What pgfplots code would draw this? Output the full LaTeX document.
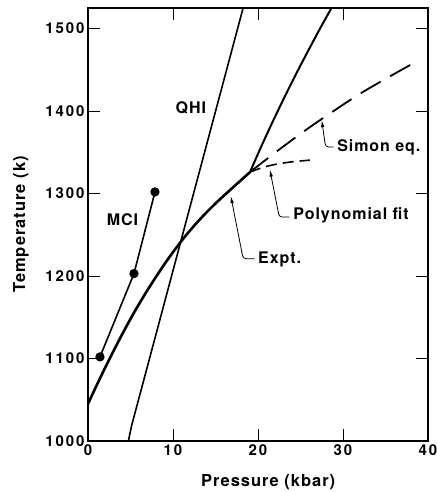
\documentclass[border=0pt]{standalone}
\usepackage{fontspec}
\setmainfont{TeX Gyre Heros}[LetterSpace=6]
\newfontfamily\tickfont{TeX Gyre Heros}[LetterSpace=13]
\usepackage{pgfplots}
\pgfplotsset{compat=1.18}
\usetikzlibrary{arrows.meta}

\newcommand{\annfont}{\fontsize{16}{16}\selectfont\bfseries}
\tikzset{leader/.style={line width=0.8pt, rounded corners=3pt, {Latex[length=7pt,width=3.5pt]}-}}

\begin{document}
\begin{tikzpicture}
\begin{axis}[
  scale only axis,
  width=340pt, height=433pt,
  xmin=0, xmax=40, ymin=1000, ymax=1525,
  xtick={0,10,20,30,40},
  ytick={1000,1100,1200,1300,1400,1500},
  tick align=inside,
  major tick length=12pt,
  tick style={line width=0.9pt, black},
  axis line style={line width=1.3pt},
  tick label style={font=\tickfont\fontsize{15}{15}\selectfont\bfseries},
  /pgf/number format/assume math mode=true,
  /pgf/number format/1000 sep={},
  xlabel={Pressure (kbar)},
  ylabel={Temperature (k)},
  label style={font=\fontsize{16.5}{16.5}\selectfont\bfseries},
  xlabel style={at={(rel axis cs:0.53,-0.104)}, anchor=base},
  ylabel style={at={(rel axis cs:-0.185,0.5)}, anchor=base},
]
\coordinate (bl) at (rel axis cs:0,0);

% experimental melting curve
\addplot[black, line width=2.6pt, smooth] coordinates {
  (0,1045) (1,1067.1) (2,1088.5) (3,1109.1) (4,1129) (5,1148) (6,1166)
  (7,1183) (8,1199) (9,1214.5) (10,1229) (11,1242.6) (12,1255.2)
  (13,1266.9) (14,1277.8) (15,1288) (16,1297.6) (17,1306.9) (18,1316.2)
  (19.06,1326)
};
% upper branch
\addplot[black, line width=2pt, smooth] coordinates {
  (19.06,1326) (20.12,1351) (21.22,1376) (22.37,1401) (23.55,1426)
  (24.78,1451) (26.05,1476) (27.35,1501) (28.7,1526)
};
% Simon equation
\addplot[black, line width=1.8pt, smooth, dash pattern=on 23pt off 11pt] coordinates {
  (19.06,1326) (22,1349.5) (26.1,1380.5) (32,1421) (38.1,1457)
};
% polynomial fit
\addplot[black, line width=1.6pt, smooth, dash pattern=on 11pt off 6pt] coordinates {
  (19.06,1326) (20.5,1331.5) (22,1335.3) (24,1338.5) (26.1,1340.5)
};
% QHI
\addplot[black, line width=1.6pt] coordinates {
  (4.75,1000) (5.14,1019) (18.3,1527)
};
% MCI
\addplot[black, line width=1.6pt, mark=*, mark size=3.8pt] coordinates {
  (1.41,1102) (5.41,1203) (7.88,1302)
};

\node[font=\annfont, anchor=base west, inner sep=0pt] at (axis cs:10.3,1396.6) {QHI};
\node[font=\annfont, anchor=base west, inner sep=0pt] at (axis cs:2.2,1261.5) {MCI};
\node[font=\annfont, anchor=base west, inner sep=0pt] at (axis cs:29.3,1351) {Simon eq.};
\node[font=\annfont, anchor=base west, inner sep=0pt] at (axis cs:24.15,1268.4) {Polynomial fit};
\node[font=\annfont, anchor=base west, inner sep=0pt] at (axis cs:20.0,1215) {Expt.};

\draw[leader] (axis cs:27.5,1389) -- (axis cs:27.95,1356.5) -- (axis cs:28.9,1356.5);
\draw[leader] (axis cs:21.4,1329) -- (axis cs:22.5,1271.5) -- (axis cs:23.7,1271.5);
\draw[leader] (axis cs:16.8,1297) -- (axis cs:18.25,1221) -- (axis cs:19.6,1221);
\end{axis}
\pgfresetboundingbox
\path (bl) ++(-88pt,-51pt) rectangle ++(436pt,492pt);
\end{tikzpicture}
\end{document}
